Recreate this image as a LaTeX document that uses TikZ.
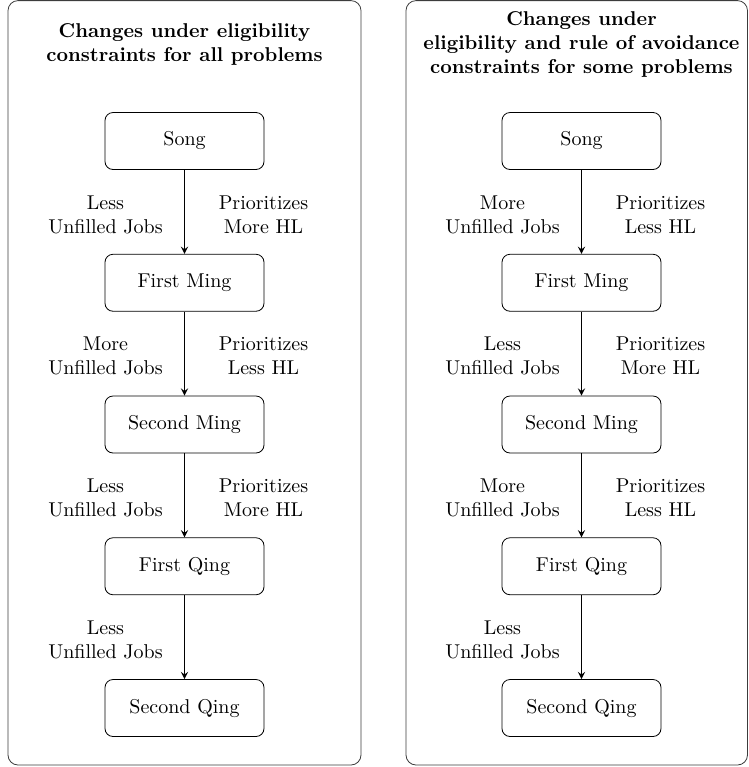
\documentclass[tikz,border=0pt]{standalone}
\usepackage{xcolor}
\usepackage{amsmath,amssymb}
\usepackage{tikz}

\begin{document}
\begin{tikzpicture}[x=0.5pt,y=0.5pt,yscale=-1,xscale=1,
        dyn/.style={draw, rounded corners=4pt, minimum width=79.5pt, minimum height=28.5pt, inner sep=0.75pt},
        lbl/.style={align=center, inner sep=0.75pt},
        ttl/.style={align=center, inner sep=0.75pt, font=\bfseries},
        arr/.style={-stealth, semithick}]
        \useasboundingbox (0,0) rectangle (749,767);
        \draw [rounded corners=5pt, color={rgb, 255:red, 60; green, 60; blue, 60 }] (8,0.6) rectangle (361,765);
        \draw [rounded corners=5pt, color={rgb, 255:red, 60; green, 60; blue, 60 }] (406,0.6) rectangle (747.5,765);

        % left panel
        \node [ttl] (ltitle) at (184.5,44) {Changes under eligibility\\constraints for all problems};
        \node [dyn] (lsong) at (184.5,141) {Song};
        \node [dyn] (lming1) at (184.5,282.75) {First Ming};
        \node [dyn] (lming2) at (184.5,424.5) {Second Ming};
        \node [dyn] (lqing1) at (184.5,566.25) {First Qing};
        \node [dyn] (lqing2) at (184.5,708) {Second Qing};
        \draw [arr] (lsong) -- (lming1);
        \draw [arr] (lming1) -- (lming2);
        \draw [arr] (lming2) -- (lqing1);
        \draw [arr] (lqing1) -- (lqing2);
        \node [lbl] (lj1) at (105.5,214.5) {Less\\Unfilled Jobs};
        \node [lbl] (lh1) at (263.5,214.5) {Prioritizes\\More HL};
        \node [lbl] (lj2) at (105.5,356) {More\\Unfilled Jobs};
        \node [lbl] (lh2) at (263.5,356) {Prioritizes\\Less HL};
        \node [lbl] (lj3) at (105.5,498) {Less\\Unfilled Jobs};
        \node [lbl] (lh3) at (263.5,498) {Prioritizes\\More HL};
        \node [lbl] (lj4) at (105.5,640) {Less\\Unfilled Jobs};

        % right panel
        \node [ttl] (rtitle) at (581.5,44) {Changes under\\eligibility and rule of avoidance\\constraints for some problems};
        \node [dyn] (rsong) at (581.5,141) {Song};
        \node [dyn] (rming1) at (581.5,282.75) {First Ming};
        \node [dyn] (rming2) at (581.5,424.5) {Second Ming};
        \node [dyn] (rqing1) at (581.5,566.25) {First Qing};
        \node [dyn] (rqing2) at (581.5,708) {Second Qing};
        \draw [arr] (rsong) -- (rming1);
        \draw [arr] (rming1) -- (rming2);
        \draw [arr] (rming2) -- (rqing1);
        \draw [arr] (rqing1) -- (rqing2);
        \node [lbl] (rj1) at (502.5,214.5) {More\\Unfilled Jobs};
        \node [lbl] (rh1) at (660.5,214.5) {Prioritizes\\Less HL};
        \node [lbl] (rj2) at (502.5,356) {Less\\Unfilled Jobs};
        \node [lbl] (rh2) at (660.5,356) {Prioritizes\\More HL};
        \node [lbl] (rj3) at (502.5,498) {More\\Unfilled Jobs};
        \node [lbl] (rh3) at (660.5,498) {Prioritizes\\Less HL};
        \node [lbl] (rj4) at (502.5,640) {Less\\Unfilled Jobs};
    \end{tikzpicture}
\end{document}
